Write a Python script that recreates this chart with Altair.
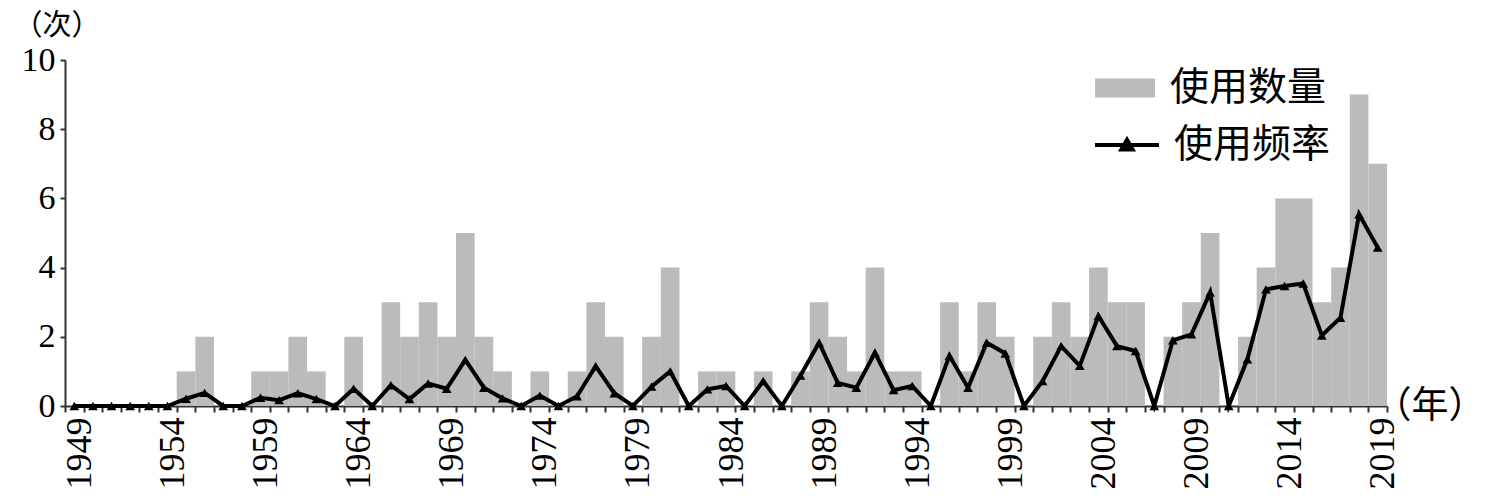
import altair as alt
import pandas as pd

years = list(range(1949, 2020))
counts = [0, 0, 0, 0, 0, 0, 1, 2, 0, 0,
          1, 1, 2, 1, 0, 2, 0, 3, 2, 3,
          2, 5, 2, 1, 0, 1, 0, 1, 3, 2,
          0, 2, 4, 0, 1, 1, 0, 1, 0, 1,
          3, 2, 1, 4, 1, 1, 0, 3, 1, 3,
          2, 0, 2, 3, 2, 4, 3, 3, 0, 2,
          3, 5, 0, 2, 4, 6, 6, 3, 4, 9,
          7]
freqs = [0, 0, 0, 0, 0, 0, 0.21, 0.38, 0, 0,
         0.24, 0.17, 0.37, 0.2, 0, 0.5, 0, 0.6, 0.2, 0.65,
         0.5, 1.33, 0.53, 0.22, 0, 0.3, 0, 0.28, 1.15, 0.37,
         0, 0.56, 1.0, 0, 0.48, 0.58, 0, 0.72, 0, 0.88,
         1.83, 0.67, 0.53, 1.54, 0.46, 0.58, 0, 1.45, 0.53, 1.83,
         1.52, 0, 0.72, 1.73, 1.16, 2.6, 1.73, 1.59, 0, 1.9,
         2.07, 3.28, 0, 1.35, 3.37, 3.47, 3.54, 2.04, 2.55, 5.54,
         4.58]
series_bar = "使用数量"
series_line = "使用频率"

df = pd.DataFrame({"year": years, "count": counts, "freq": freqs,
                   "s1": series_bar, "s2": series_line})

FONT = "Liberation Serif, Noto Sans CJK SC"
AXC = "#333333"
BARC = "#bbbbbb"

x_enc = alt.X(
    "year:O",
    scale=alt.Scale(paddingInner=0, paddingOuter=0),
    axis=alt.Axis(
        labelExpr="datum.value % 5 == 4 ? datum.label : ''",
        labelAngle=-90, labelOverlap=False, labelFont=FONT, labelFontSize=36,
        labelColor="black", labelPadding=5, labelOffset=5,
        tickBand="extent", tickSize=6, tickColor=AXC, tickWidth=2,
        domainColor=AXC, domainWidth=2, grid=False,
        title="（年）", titleAngle=0, titleX=1420, titleY=0,
        titleAlign="right", titleBaseline="middle", titleFont=FONT,
        titleFontSize=37, titleFontWeight="normal", titleColor="black",
    ),
)

bars = alt.Chart(df).mark_bar(color=BARC).encode(
    x=x_enc,
    y=alt.Y(
        "count:Q",
        scale=alt.Scale(domain=[0, 10], nice=False),
        axis=alt.Axis(
            values=[0, 2, 4, 6, 8, 10], tickSize=5, tickColor=AXC, tickWidth=2,
            domainColor=AXC, domainWidth=2, grid=False,
            labelFont=FONT, labelFontSize=34, labelColor="black", labelPadding=5,
            title="（次）", titleAngle=0, titleX=-52, titleY=-49,
            titleAlign="left", titleBaseline="top", titleFont=FONT,
            titleFontSize=29, titleFontWeight="normal", titleColor="black",
        ),
    ),
    fill=alt.Fill(
        "s1:N", scale=alt.Scale(range=[BARC]),
        legend=alt.Legend(
            title=None, orient="none", legendX=1040, legendY=8, padding=0,
            symbolType="M-1.5,-0.48L1.5,-0.48L1.5,0.48L-1.5,0.48Z",
            symbolSize=1600, symbolStrokeWidth=0, symbolOpacity=1,
            labelFont=FONT, labelFontSize=39, labelColor="black", labelOffset=25,
        ),
    ),
)

line = alt.Chart(df).mark_line(strokeWidth=4, color="black").encode(
    x=x_enc,
    y=alt.Y("freq:Q"),
    stroke=alt.Stroke(
        "s2:N", scale=alt.Scale(range=["black"]),
        legend=alt.Legend(
            title=None, orient="none", legendX=1040, legendY=63, padding=0,
            symbolType="M-1.6,0L1.6,0M-0.28,0.22L0,-0.26L0.28,0.22Z",
            symbolSize=1600, symbolStrokeWidth=4, symbolFillColor="black",
            labelFont=FONT, labelFontSize=39, labelColor="black", labelOffset=25,
        ),
    ),
)

points = alt.Chart(df).mark_point(
    shape="triangle-up", filled=True, size=95, color="black", opacity=1
).encode(x=x_enc, y=alt.Y("freq:Q"))

chart = alt.layer(bars, line, points).resolve_scale(fill="independent").properties(
    width=1322, height=346,
    autosize=alt.AutoSizeParams(type="none"),
    padding={"left": 57, "top": 52, "right": 100, "bottom": 87},
).configure(background="white").configure_view(stroke=None)

chart.save("out.html", embed_options={"renderer": "svg", "actions": False})
